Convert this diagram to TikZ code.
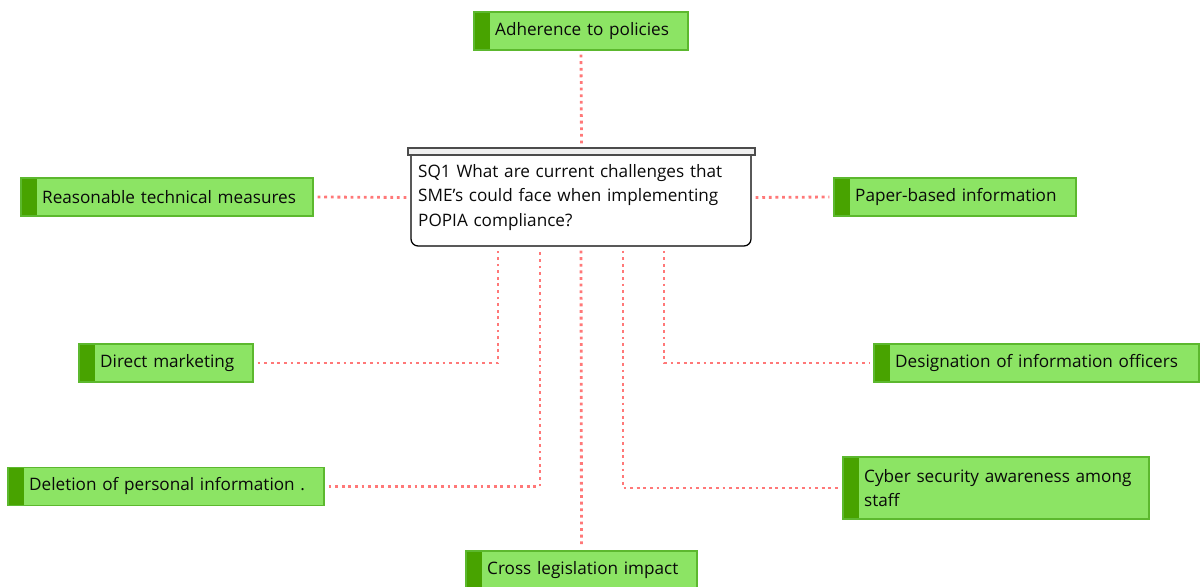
\documentclass[tikz,border=0pt]{standalone}
\usepackage{fontspec}
\setmainfont{Open Sans}
\usetikzlibrary{calc,positioning}
\definecolor{mylight}{RGB}{140,228,100}
\definecolor{mydark}{RGB}{72,163,0}
\definecolor{myborder}{RGB}{92,184,46}
\definecolor{mydot}{RGB}{255,120,120}
\definecolor{mytext}{RGB}{10,10,10}
\tikzset{
    mybox/.style={draw=myborder,fill=mylight,line width=0.9pt,
        minimum height=0.95cm,inner xsep=0pt,inner ysep=2pt,align=left,
        text=mytext,font={\fontsize{12.2}{17.4}\selectfont},
        execute at begin node={\leftskip=0.53cm},
        path picture={\fill[mydark] (path picture bounding box.north west)
            rectangle ([xshift=0.4cm]path picture bounding box.south west);}},
    myquestion/.style={draw=black,fill=white,line width=0.9pt,rounded corners=5pt,
        minimum width=8.5cm,minimum height=2.425cm,inner xsep=0pt,inner ysep=2pt,
        text width=8.5cm,align=left,text=mytext,font={\fontsize{12.2}{17.4}\selectfont},
        execute at begin node={\leftskip=0.18cm}},
    mybar/.style={draw=black!70,fill=black!6,line width=0.8pt,
        minimum width=8.675cm,minimum height=0.175cm,inner sep=0pt},
    myline/.style={draw=mydot,line width=2pt,dash pattern=on 2pt off 2.7pt,
        shorten <=0.1cm,shorten >=0.1cm}
}
\begin{document}
\begin{tikzpicture}
  \useasboundingbox (0,0) rectangle (30.025,14.675);

  % central question
  \node[myquestion] (q) at (14.525,9.7375)
    {SQ1 What are current challenges that\\SME's could face when implementing\\POPIA compliance?};
  \node[mybar] (bar) at (14.5375,10.8875) {};

  % challenges
  \node[mybox,text width=5.35cm] (adh) at (14.525,13.9) {Adherence to policies};
  \node[mybox,text width=7.3cm] (rtm) at (4.175,9.75) {Reasonable technical measures};
  \node[mybox,text width=6.05cm] (pbi) at (23.875,9.75) {Paper-based information};
  \node[mybox,text width=4.35cm] (dm) at (4.15,5.6) {Direct marketing};
  \node[mybox,text width=8.125cm] (dio) at (25.9125,5.6) {Designation of information officers};
  \node[mybox,text width=7.9cm] (dpi) at (4.15,2.5125) {Deletion of personal information .};
  \node[mybox,text width=7.65cm,minimum height=1.55cm] (csa) at (24.9,2.475)
    {Cyber security awareness among\\staff};
  \node[mybox,text width=5.775cm] (cli) at (14.5375,0.425) {Cross legislation impact};

  % dotted links
  \draw[myline] (adh.south) -- (bar.north);
  \draw[myline] (rtm.east) -- (q.west);
  \draw[myline] (q.east) -- (pbi.west);
  \draw[myline] (dm.east) -| ([xshift=-2.075cm]q.south);
  \draw[myline] (dpi.east) -| ([xshift=-1.025cm]q.south);
  \draw[myline] (q.south) -- (cli.north);
  \draw[myline] ([xshift=1.05cm]q.south) |- (csa.west);
  \draw[myline] ([xshift=2.075cm]q.south) |- (dio.west);
\end{tikzpicture}
\end{document}
